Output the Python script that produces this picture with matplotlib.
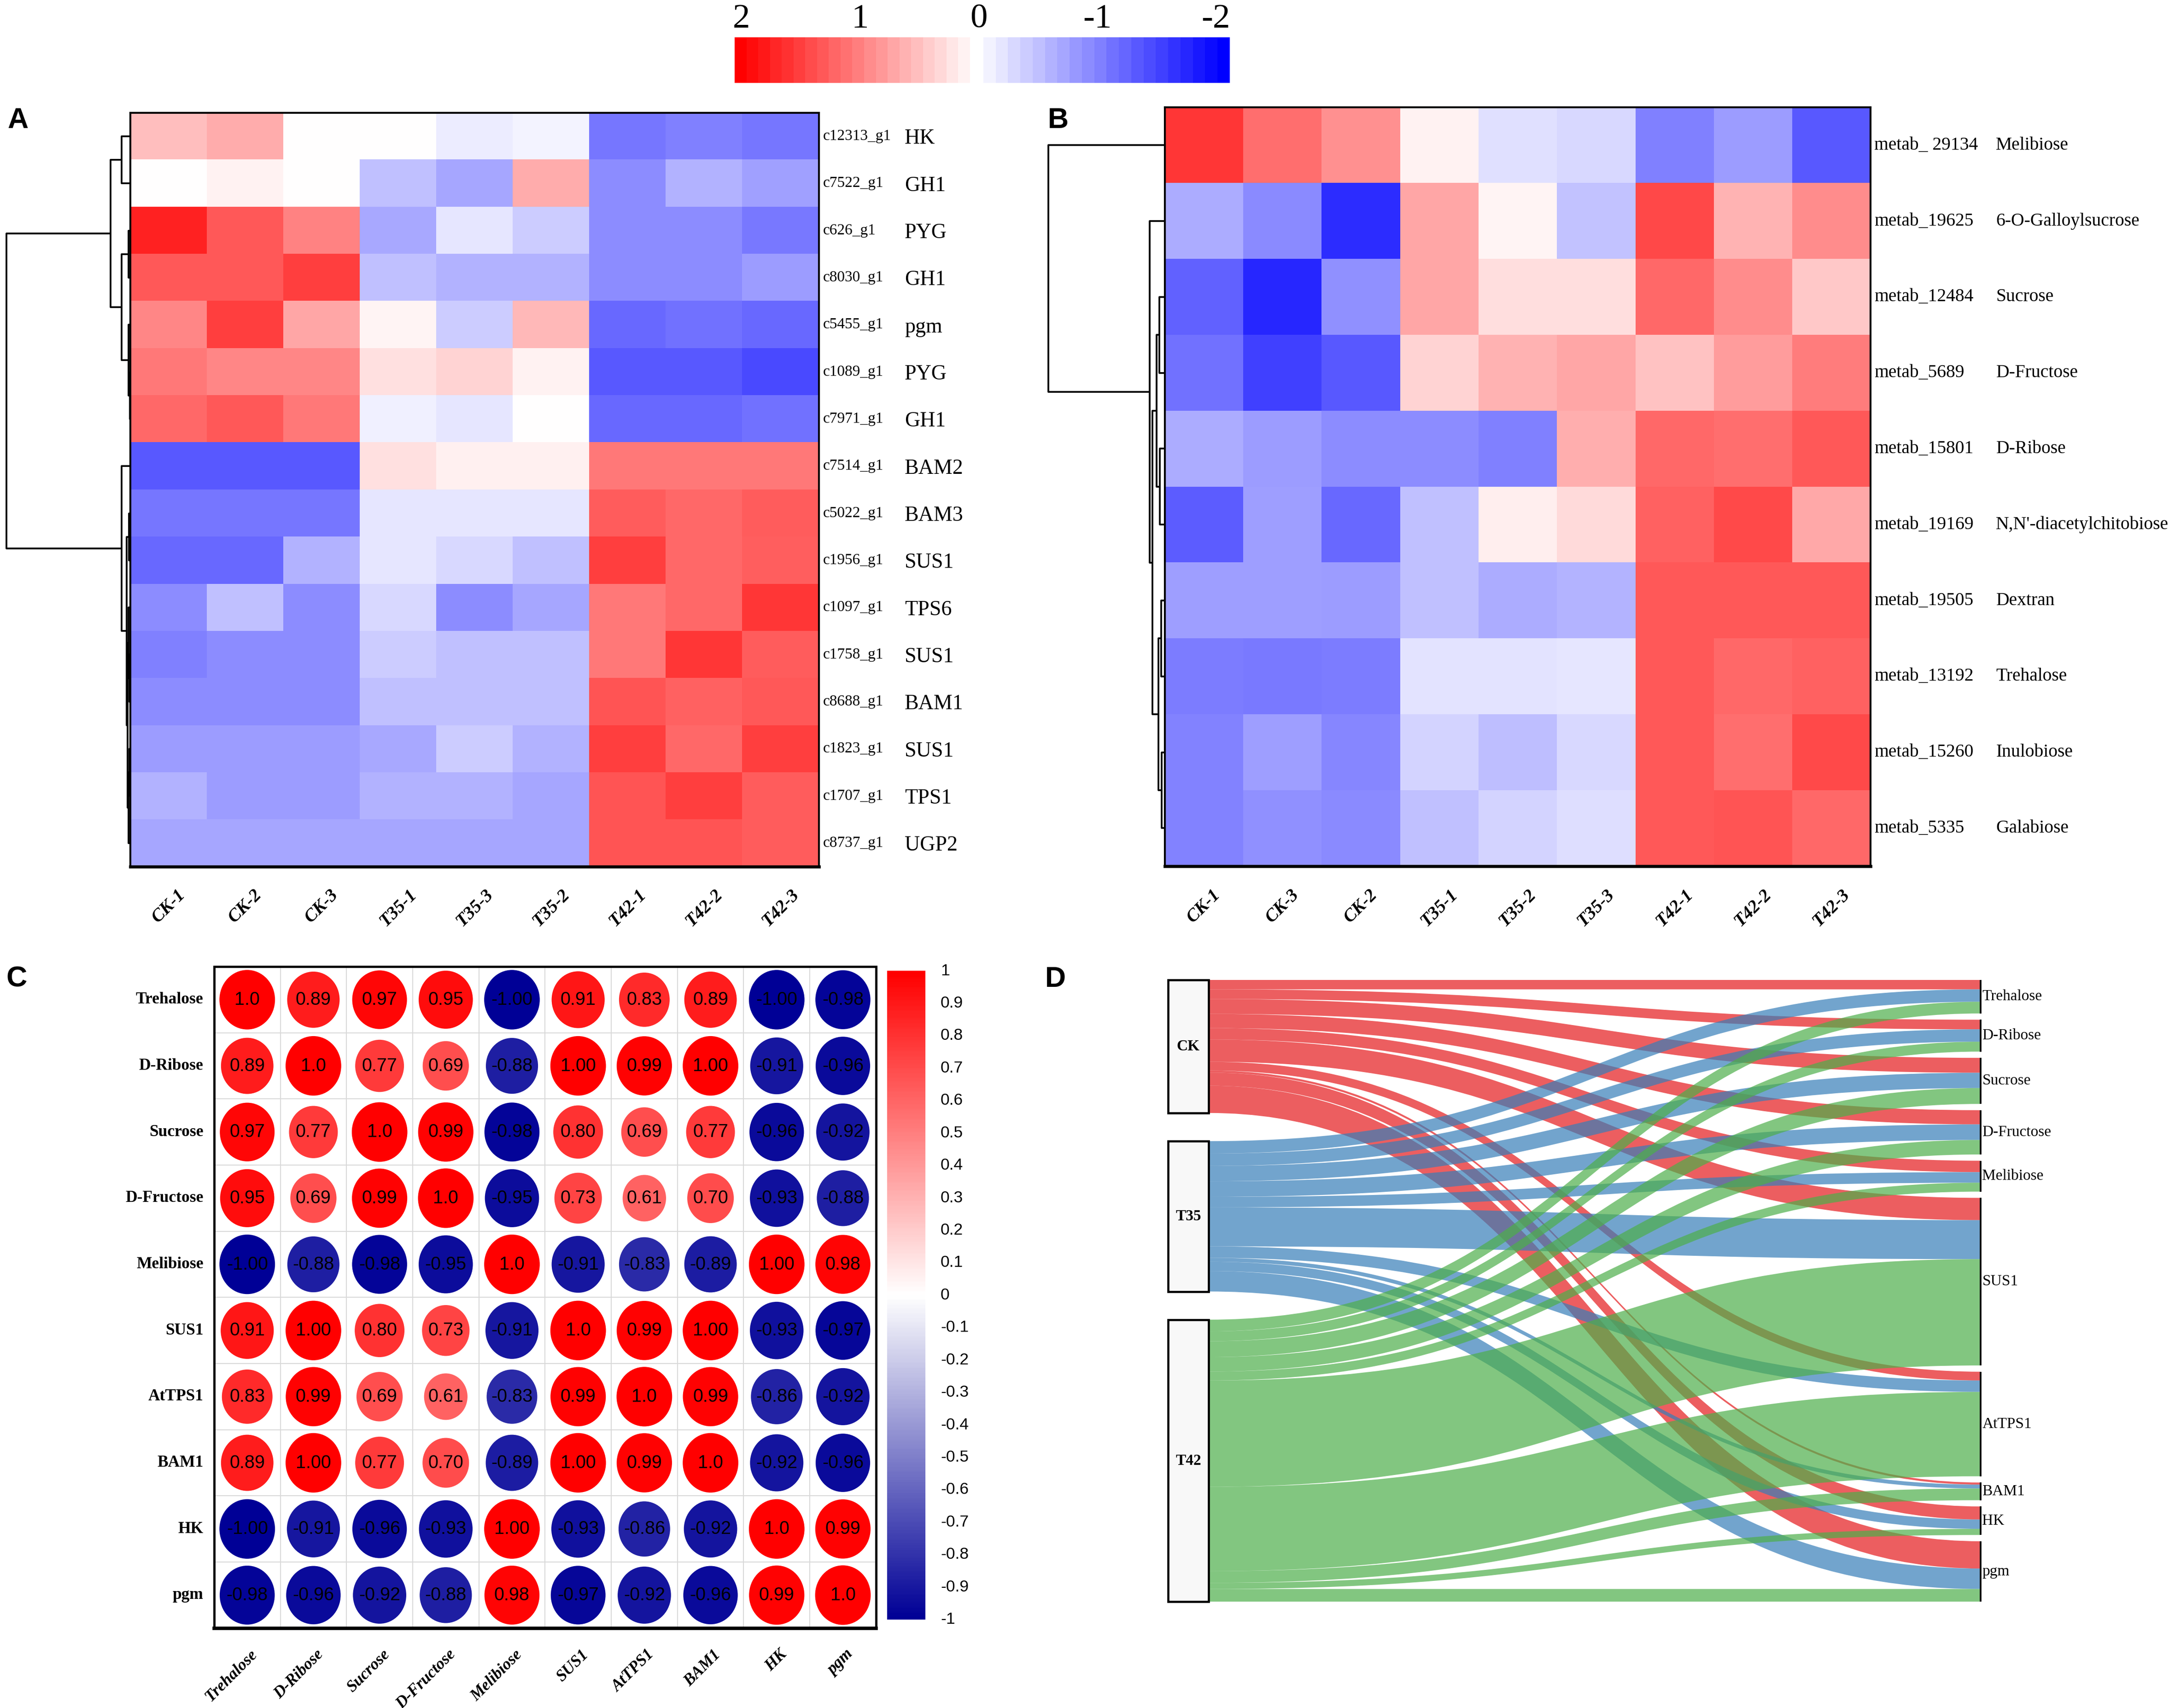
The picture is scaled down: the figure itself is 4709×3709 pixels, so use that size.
import numpy as np
import matplotlib
matplotlib.use("Agg")
import matplotlib.pyplot as plt
from matplotlib.colors import LinearSegmentedColormap
from matplotlib.patches import Ellipse, Rectangle, PathPatch
from matplotlib.path import Path
from matplotlib.transforms import blended_transform_factory as blend

# ======================= DATA =======================
scale_ticks = [2, 1, 0, -1, -2]

A_columns = ["CK-1", "CK-2", "CK-3", "T35-1", "T35-3", "T35-2", "T42-1", "T42-2", "T42-3"]
A_ids = ["c12313_g1", "c7522_g1", "c626_g1", "c8030_g1", "c5455_g1", "c1089_g1", "c7971_g1",
         "c7514_g1", "c5022_g1", "c1956_g1", "c1097_g1", "c1758_g1", "c8688_g1", "c1823_g1",
         "c1707_g1", "c8737_g1"]
A_genes = ["HK", "GH1", "PYG", "GH1", "pgm", "PYG", "GH1", "BAM2", "BAM3", "SUS1", "TPS6",
           "SUS1", "BAM1", "SUS1", "TPS1", "UGP2"]
A_values = [
    [0.50, 0.65, 0.00, 0.00, -0.15, -0.08, -1.07, -1.00, -1.07],
    [0.00, 0.10, 0.00, -0.50, -0.70, 0.65, -0.90, -0.60, -0.75],
    [1.72, 1.30, 0.98, -0.68, -0.20, -0.40, -0.90, -0.90, -1.05],
    [1.30, 1.30, 1.50, -0.50, -0.60, -0.60, -0.90, -0.90, -0.78],
    [0.94, 1.50, 0.70, 0.08, -0.40, 0.55, -1.18, -1.10, -1.18],
    [1.06, 0.94, 0.94, 0.24, 0.34, 0.10, -1.30, -1.30, -1.41],
    [1.18, 1.30, 1.06, -0.12, -0.20, 0.00, -1.18, -1.18, -1.10],
    [-1.30, -1.30, -1.30, 0.24, 0.12, 0.12, 1.06, 1.06, 1.06],
    [-1.07, -1.07, -1.07, -0.20, -0.20, -0.20, 1.28, 1.18, 1.28],
    [-1.18, -1.18, -0.60, -0.20, -0.30, -0.50, 1.50, 1.18, 1.25],
    [-0.90, -0.50, -0.90, -0.30, -0.90, -0.70, 1.06, 1.18, 1.57],
    [-1.00, -0.90, -0.90, -0.40, -0.50, -0.50, 1.06, 1.57, 1.28],
    [-0.90, -0.90, -0.90, -0.50, -0.50, -0.50, 1.33, 1.23, 1.30],
    [-0.78, -0.78, -0.78, -0.68, -0.40, -0.60, 1.50, 1.18, 1.50],
    [-0.60, -0.78, -0.78, -0.60, -0.60, -0.70, 1.33, 1.50, 1.28],
    [-0.70, -0.70, -0.70, -0.70, -0.70, -0.70, 1.33, 1.33, 1.28],
]
# linkage: (child a, child b, height); leaves 0..15 in display order
A_linkage = [
    (5, 6, 0.10), (4, 16, 0.35), (2, 3, 0.35), (18, 17, 1.45), (0, 1, 1.45),
    (20, 19, 3.20), (8, 9, 0.25), (11, 12, 0.15), (10, 23, 0.30), (13, 14, 0.20),
    (25, 15, 0.30), (24, 26, 0.45), (22, 27, 0.60), (7, 28, 1.45), (21, 29, 20.0),
]

B_columns = ["CK-1", "CK-3", "CK-2", "T35-1", "T35-2", "T35-3", "T42-1", "T42-2", "T42-3"]
B_ids = ["metab_ 29134", "metab_19625", "metab_12484", "metab_5689", "metab_15801",
         "metab_19169", "metab_19505", "metab_13192", "metab_15260", "metab_5335"]
B_names = ["Melibiose", "6-O-Galloylsucrose", "Sucrose", "D-Fructose", "D-Ribose",
           "N,N'-diacetylchitobiose", "Dextran", "Trehalose", "Inulobiose", "Galabiose"]
B_values = [
    [1.57, 1.14, 0.86, 0.10, -0.24, -0.31, -1.00, -0.78, -1.31],
    [-0.65, -0.92, -1.65, 0.70, 0.08, -0.47, 1.43, 0.59, 0.90],
    [-1.22, -1.69, -0.86, 0.70, 0.26, 0.26, 1.18, 0.90, 0.43],
    [-1.10, -1.49, -1.30, 0.34, 0.60, 0.70, 0.47, 0.78, 1.02],
    [-0.65, -0.78, -0.90, -0.90, -1.00, 0.63, 1.18, 1.14, 1.30],
    [-1.28, -0.76, -1.18, -0.50, 0.13, 0.29, 1.22, 1.41, 0.68],
    [-0.76, -0.76, -0.78, -0.50, -0.65, -0.59, 1.30, 1.31, 1.31],
    [-1.02, -1.04, -1.02, -0.21, -0.21, -0.20, 1.30, 1.18, 1.23],
    [-0.98, -0.76, -0.94, -0.34, -0.51, -0.31, 1.31, 1.14, 1.41],
    [-0.98, -0.86, -0.92, -0.50, -0.34, -0.26, 1.31, 1.33, 1.18],
]
B_linkage = [
    (2, 3, 0.90), (4, 5, 0.80), (10, 11, 1.40), (6, 7, 0.60), (8, 9, 0.50),
    (13, 14, 1.10), (12, 15, 2.10), (1, 16, 2.60), (0, 17, 20.0),
]

C_labels = ["Trehalose", "D-Ribose", "Sucrose", "D-Fructose", "Melibiose", "SUS1",
            "AtTPS1", "BAM1", "HK", "pgm"]
C_corr = [
    [1.00, 0.89, 0.97, 0.95, -1.00, 0.91, 0.83, 0.89, -1.00, -0.98],
    [0.89, 1.00, 0.77, 0.69, -0.88, 1.00, 0.99, 1.00, -0.91, -0.96],
    [0.97, 0.77, 1.00, 0.99, -0.98, 0.80, 0.69, 0.77, -0.96, -0.92],
    [0.95, 0.69, 0.99, 1.00, -0.95, 0.73, 0.61, 0.70, -0.93, -0.88],
    [-1.00, -0.88, -0.98, -0.95, 1.00, -0.91, -0.83, -0.89, 1.00, 0.98],
    [0.91, 1.00, 0.80, 0.73, -0.91, 1.00, 0.99, 1.00, -0.93, -0.97],
    [0.83, 0.99, 0.69, 0.61, -0.83, 0.99, 1.00, 0.99, -0.86, -0.92],
    [0.89, 1.00, 0.77, 0.70, -0.89, 1.00, 0.99, 1.00, -0.92, -0.96],
    [-1.00, -0.91, -0.96, -0.93, 1.00, -0.93, -0.86, -0.92, 1.00, 0.99],
    [-0.98, -0.96, -0.92, -0.88, 0.98, -0.97, -0.92, -0.96, 0.99, 1.00],
]
C_cbar_ticks = [1.0, 0.9, 0.8, 0.7, 0.6, 0.5, 0.4, 0.3, 0.2, 0.1, 0.0,
                -0.1, -0.2, -0.3, -0.4, -0.5, -0.6, -0.7, -0.8, -0.9, -1.0]

D_sources = ["CK", "T35", "T42"]
D_targets = ["Trehalose", "D-Ribose", "Sucrose", "D-Fructose", "Melibiose", "SUS1",
             "AtTPS1", "BAM1", "HK", "pgm"]
D_flow_CK = [6.9, 6.9, 10.7, 10.2, 8.2, 16.0, 6.3, 1.5, 9.4, 19.6]
D_flow_T35 = [8.9, 8.9, 11.0, 11.2, 7.6, 28.0, 8.2, 2.8, 6.7, 14.7]
D_flow_T42 = [8.4, 7.1, 11.4, 10.4, 6.4, 76.4, 60.6, 8.4, 4.4, 9.2]
D_colors = ["#E41A1C", "#377EB8", "#4DAF4A"]

# ======================= LAYOUT HELPERS =======================
SERIF = ["Liberation Serif", "DejaVu Serif"]
SANS = ["Liberation Sans", "DejaVu Sans"]

W, H = 1568.1, 1235.1
fig = plt.figure(figsize=(4709 / 300 + 1e-4, 3709 / 300 + 1e-4), dpi=300)
fig.patch.set_facecolor("white")


def fax(x0, y0, x1, y1):
    return fig.add_axes([x0 / W, 1 - y1 / H, (x1 - x0) / W, (y1 - y0) / H])


def fx(x):
    return x / W


def fy(y):
    return 1 - y / H


heat_cmap = LinearSegmentedColormap.from_list("heat", ["#0000FF", "#FFFFFF", "#FF0000"])
corr_cmap = LinearSegmentedColormap.from_list("corr", ["#000096", "#FFFFFF", "#FF0000"])


def draw_dendro(ax, n_leaves, linkage, frac_root):
    pos = {i: float(i) for i in range(n_leaves)}
    hgt = {i: 0.0 for i in range(n_leaves)}
    hmax = 0
    for k, (a, b, h) in enumerate(linkage):
        node = n_leaves + k
        ax.plot([hgt[a], h, h, hgt[b]], [pos[a], pos[a], pos[b], pos[b]],
                color="black", lw=0.9, clip_on=False, solid_capstyle="butt")
        pos[node] = (pos[a] + pos[b]) / 2
        hgt[node] = h
        hmax = max(hmax, h)
    ax.set_ylim(n_leaves - 0.5, -0.5)
    ax.set_xlim(hmax / frac_root, 0)
    ax.axis("off")


# ======================= PANEL LETTERS =======================
for s, x, y in [("A", 13, 87), ("B", 765, 87), ("C", 12, 708), ("D", 763, 708)]:
    fig.text(fx(x), fy(y), s, fontsize=15, fontweight="bold", family=SANS,
             ha="center", va="center")

# ======================= TOP SCALE BAR =======================
n_steps = 20
red_side = np.linspace(scale_ticks[0], scale_ticks[2], n_steps + 1)[:-1]
blue_side = np.linspace(scale_ticks[2], scale_ticks[-1], n_steps + 1)[1:]
axl = fax(531, 27, 701, 60)
axl.imshow(red_side[None, :], cmap=heat_cmap, vmin=-2, vmax=2, aspect="auto",
           interpolation="nearest")
axl.axis("off")
axr = fax(711, 27, 889, 60)
axr.imshow(blue_side[None, :], cmap=heat_cmap, vmin=-2, vmax=2, aspect="auto",
           interpolation="nearest")
axr.axis("off")
for v in scale_ticks:
    xx = 536 + (scale_ticks[0] - v) / (scale_ticks[0] - scale_ticks[-1]) * (879 - 536)
    fig.text(fx(xx), fy(14), str(v), fontsize=18, family=SERIF, ha="center", va="center")

# ======================= PANEL A =======================
axA = fax(94.4, 81.5, 592, 626.7)
axA.imshow(np.array(A_values), cmap=heat_cmap, vmin=-2, vmax=2, aspect="auto",
           interpolation="nearest")
axA.set_xticks([])
axA.set_yticks([])
for sp in axA.spines.values():
    sp.set_linewidth(1.0)
axA.spines["bottom"].set_linewidth(1.6)
trA = blend(fig.transFigure, axA.transData)
for i, (cid, g) in enumerate(zip(A_ids, A_genes)):
    axA.text(fx(595), i, cid, transform=trA, fontsize=8, family=SERIF, ha="left", va="center")
    axA.text(fx(654), i + 0.05, g, transform=trA, fontsize=11, family=SERIF, ha="left",
             va="center")
trAc = blend(axA.transData, fig.transFigure)
for j, c in enumerate(A_columns):
    axA.text(j, fy(641), c, transform=trAc, rotation=45, ha="center", va="top", fontsize=9.5,
             family=SERIF, fontweight="bold", style="italic")

axDA = fax(0, 81.5, 94.4, 626.7)
draw_dendro(axDA, len(A_ids), A_linkage, (94.4 - 4.7) / 94.4)

# ======================= PANEL B =======================
axB = fax(842, 77.6, 1352.4, 626.3)
axB.imshow(np.array(B_values), cmap=heat_cmap, vmin=-2, vmax=2, aspect="auto",
           interpolation="nearest")
axB.set_xticks([])
axB.set_yticks([])
for sp in axB.spines.values():
    sp.set_linewidth(1.0)
axB.spines["bottom"].set_linewidth(1.6)
trB = blend(fig.transFigure, axB.transData)
for i, (mid, nm) in enumerate(zip(B_ids, B_names)):
    axB.text(fx(1355), i, mid, transform=trB, fontsize=9.5, family=SERIF, ha="left", va="center")
    axB.text(fx(1443), i, nm, transform=trB, fontsize=9.5, family=SERIF, ha="left", va="center")
trBc = blend(axB.transData, fig.transFigure)
for j, c in enumerate(B_columns):
    axB.text(j, fy(641), c, transform=trBc, rotation=45, ha="center", va="top", fontsize=9.5,
             family=SERIF, fontweight="bold", style="italic")

axDB = fax(750, 77.6, 842, 626.3)
draw_dendro(axDB, len(B_ids), B_linkage, (842 - 758) / (842 - 750))

# ======================= PANEL C =======================
corr = np.array(C_corr)
n = len(C_labels)
axC = fax(154.8, 699, 633.3, 1177.4)
axC.set_xlim(0, n)
axC.set_ylim(n, 0)
for k in range(1, n):
    axC.axhline(k, color="#D9D9D9", lw=0.5, zorder=0)
    axC.axvline(k, color="#D9D9D9", lw=0.5, zorder=0)
for i in range(n):
    for j in range(n):
        r = corr[i, j]
        sz = np.sqrt(abs(r))
        axC.add_patch(Ellipse((j + 0.5, i + 0.5), 0.84 * sz, 0.90 * sz,
                              facecolor=corr_cmap((r + 1) / 2), edgecolor="none", zorder=2))
        txt = "1.0" if i == j else f"{r:.2f}"
        axC.text(j + 0.5, i + 0.5, txt, ha="center", va="center", fontsize=9.5,
                 family=SANS, color="black", zorder=3)
axC.set_xticks([])
axC.set_yticks([])
for sp in axC.spines.values():
    sp.set_linewidth(1.2)
axC.spines["bottom"].set_linewidth(1.8)
trC = blend(fig.transFigure, axC.transData)
for i, lab in enumerate(C_labels):
    axC.text(fx(147), i + 0.5, lab, transform=trC, ha="right", va="center", fontsize=8.5,
             family=SERIF, fontweight="bold")
trCc = blend(axC.transData, fig.transFigure)
for j, lab in enumerate(C_labels):
    axC.text(j + 0.7, fy(1191), lab, transform=trCc, rotation=45, ha="right", va="top",
             fontsize=8.5, family=SERIF, fontweight="bold", style="italic")

axCb = fax(641.5, 702, 669, 1171)
grad = np.linspace(1, -1, 400)[:, None]
axCb.imshow(grad, cmap=corr_cmap, vmin=-1, vmax=1, aspect="auto", extent=[0, 1, -1, 1])
axCb.set_ylim(-1, 1)
axCb.axis("off")
trCb = blend(fig.transFigure, axCb.transData)
for v in C_cbar_ticks:
    vv = round(v, 1) + 0.0
    axCb.text(fx(680), vv, f"{vv:g}", transform=trCb, ha="left", va="center",
              fontsize=8.5, family=SANS)

# ======================= PANEL D (Sankey) =======================
flows = np.array([D_flow_CK, D_flow_T35, D_flow_T42], dtype=float)
ns, nt = flows.shape
gap_r = 4.5
t_tot = flows.sum(axis=0)
s_tot = flows.sum(axis=1)
total = t_tot.sum() + gap_r * (nt - 1)
gap_l = (total - s_tot.sum()) / (ns - 1)
t_top = np.concatenate([[0.0], np.cumsum(t_tot + gap_r)[:-1]])
s_top = np.concatenate([[0.0], np.cumsum(s_tot + gap_l)[:-1]])

axD = fax(844.4, 708.5, 1432, 1158.3)
axD.set_xlim(0, 1)
axD.set_ylim(total, 0)
axD.axis("off")
bw = 29.4 / (1432 - 844.4)
x0, x1 = bw, 1.0
xm = (x0 + x1) / 2
codes = [Path.MOVETO, Path.CURVE4, Path.CURVE4, Path.CURVE4, Path.LINETO,
         Path.CURVE4, Path.CURVE4, Path.CURVE4, Path.CLOSEPOLY]
t_off = t_top.copy()
for s in range(ns):
    l_off = s_top[s]
    for t in range(nt):
        v = flows[s, t]
        yl0, yl1 = l_off, l_off + v
        yr0, yr1 = t_off[t], t_off[t] + v
        verts = [(x0, yl0), (xm, yl0), (xm, yr0), (x1, yr0), (x1, yr1),
                 (xm, yr1), (xm, yl1), (x0, yl1), (x0, yl0)]
        axD.add_patch(PathPatch(Path(verts, codes), facecolor=D_colors[s], alpha=0.7,
                                lw=0, zorder=2 + s))
        l_off += v
        t_off[t] += v

for s in range(ns):
    axD.add_patch(Rectangle((0, s_top[s]), bw, s_tot[s], facecolor="#F8F8F8",
                            edgecolor="black", lw=1.1, zorder=6, clip_on=False))
    axD.text(bw / 2, s_top[s] + s_tot[s] / 2, D_sources[s], ha="center", va="center",
             fontsize=8, family=SERIF, fontweight="bold", zorder=7)
trD = blend(fig.transFigure, axD.transData)
for t in range(nt):
    axD.plot([1, 1], [t_top[t], t_top[t] + t_tot[t]], color="black", lw=0.9,
             clip_on=False, zorder=6, solid_capstyle="butt")
    axD.text(fx(1433), t_top[t] + t_tot[t] / 2, D_targets[t], transform=trD, ha="left",
             va="center", fontsize=8, family=SERIF)

fig.savefig("out.png", dpi=300, facecolor="white")
